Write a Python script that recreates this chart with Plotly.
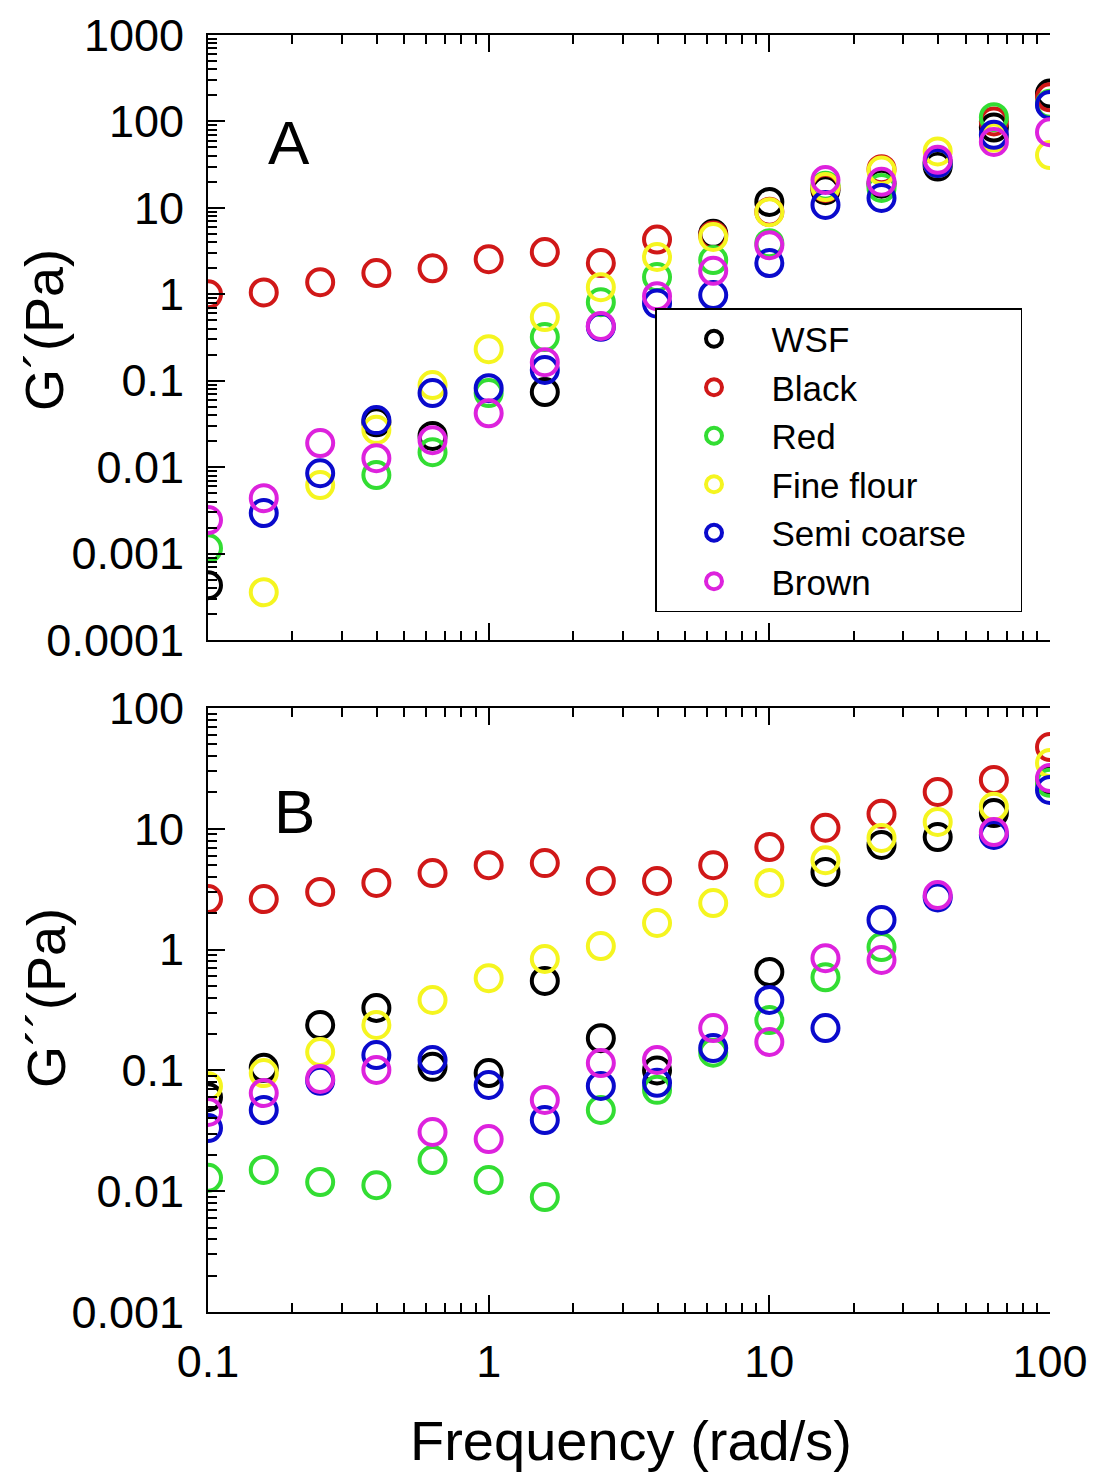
import plotly.graph_objects as go

# ---------------- data ----------------
freq = [0.1, 0.158, 0.251, 0.398, 0.631, 1.0, 1.585, 2.51, 3.98, 6.31,
        10.0, 15.85, 25.1, 39.8, 63.1, 100.0]

series_names = ["WSF", "Black", "Red", "Fine flour", "Semi coarse", "Brown"]
series_colors = ["#000000", "#d01818", "#33dd33", "#f5f520", "#0a0acc", "#dd22dd"]

# G' (Pa)  panel A
gp_wsf    = [0.00043, None, None, 0.033, 0.023, None, 0.074, None, None, 5.0,
             11.7, 16, 19, 30, 85, 210]
gp_black  = [1.0, 1.05, 1.38, 1.76, 2.0, 2.55, 3.08, 2.3, 4.3, 4.8,
             9.0, 17, 28, 33, 100, 190]
gp_red    = [0.00115, None, None, 0.0081, 0.0149, 0.072, 0.32, 0.81, 1.58, 2.49,
             3.9, 18, 17, 33, 112, 160]
gp_fine   = [None, 0.000357, 0.0062, 0.027, 0.089, 0.232, 0.545, 1.21, 2.7, 4.6,
             8.9, 17.4, 27, 45, 65, 40.8]
gp_semi   = [None, 0.00294, 0.0085, 0.035, 0.072, 0.082, 0.133, 0.42, 0.78, 0.98,
             2.3, 10.8, 13, 33, 70, 155]
gp_brown  = [0.00244, 0.00438, 0.019, 0.0127, 0.0205, 0.042, 0.164, 0.43, 0.95, 1.87,
             3.7, 21, 20, 36, 58, 75]

# G'' (Pa)  panel B
gpp_wsf   = [0.06, 0.105, 0.238, 0.329, 0.107, 0.095, 0.55, 0.185, 0.10, None,
             0.653, 4.39, 7.35, 8.55, 13.5, 25]
gpp_black = [2.62, 2.62, 3.0, 3.56, 4.3, 5.0, 5.2, 3.7, 3.7, 5.0,
             7.06, 10.2, 13.3, 20.2, 25.4, 47.5]
gpp_red   = [0.0129, 0.015, 0.0119, 0.0112, 0.0181, 0.0124, 0.00895, 0.047, 0.069, 0.14,
             0.261, 0.59, 1.05, None, None, 24]
gpp_fine  = [0.074, 0.095, 0.142, 0.238, 0.383, 0.58, 0.836, 1.07, 1.66, 2.43,
             3.56, 5.5, 8.4, 11.4, 15.2, 35]
gpp_semi  = [0.0333, 0.047, 0.082, 0.134, 0.122, 0.0757, 0.0388, 0.0743, 0.079, 0.153,
             0.383, 0.224, 1.76, 2.7, 8.9, 21]
gpp_brown = [0.0453, 0.065, 0.085, 0.1008, 0.0309, 0.027, 0.0569, 0.115, 0.122, 0.224,
             0.172, 0.85, 0.82, 2.83, 9.4, 26.3]

gp_all = [gp_wsf, gp_black, gp_red, gp_fine, gp_semi, gp_brown]
gpp_all = [gpp_wsf, gpp_black, gpp_red, gpp_fine, gpp_semi, gpp_brown]

x_tickvals = [0.1, 1, 10, 100]
x_ticktext = ["0.1", "1", "10", "100"]
yA_tickvals = [1e-4, 1e-3, 1e-2, 1e-1, 1, 10, 100, 1000]
yA_ticktext = ["0.0001", "0.001", "0.01", "0.1", "1", "10", "100", "1000"]
yB_tickvals = [1e-3, 1e-2, 1e-1, 1, 10, 100]
yB_ticktext = ["0.001", "0.01", "0.1", "1", "10", "100"]

# ---------------- figure ----------------
W, H = 1099, 1474
OX, OY = 8, 8          # page body margin offset
FONT = "Liberation Sans, Arial, sans-serif"

def px(x):
    return (x - OX) / W

def py(y):
    return 1 - (y - OY) / H

def minor_vals(lo_exp, hi_exp):
    out = []
    for e in range(lo_exp, hi_exp):
        for m in range(2, 10):
            out.append(m * 10 ** e)
    return out

# pad the longest legend label so the legend box is as wide as the reference
longest = max(len(n) for n in series_names)

fig = go.Figure()

for i, name in enumerate(series_names):
    label = name + ("\u00a0" * 5 if len(name) == longest else "")
    fig.add_trace(go.Scatter(
        x=freq, y=gp_all[i], mode="markers", name=label,
        marker=dict(symbol="circle-open", size=26, color=series_colors[i],
                    line=dict(width=4, color=series_colors[i])),
        xaxis="x", yaxis="y", showlegend=True, legendrank=i + 1))
for i, name in enumerate(series_names):
    fig.add_trace(go.Scatter(
        x=freq, y=gpp_all[i], mode="markers", name=name,
        marker=dict(symbol="circle-open", size=26, color=series_colors[i],
                    line=dict(width=4, color=series_colors[i])),
        xaxis="x2", yaxis="y2", showlegend=False))

xdom = [px(208), px(1050)]
yA_dom = [py(640), py(35)]
yB_dom = [py(1312), py(708)]

axis_common = dict(type="log", showgrid=False, zeroline=False, showline=True,
                   linecolor="black", linewidth=2, ticks="inside",
                   tickcolor="black", tickwidth=2, ticklen=17, automargin=False,
                   tickfont=dict(family=FONT, size=45, color="black"))

xminor = dict(tickmode="array", tickvals=minor_vals(-1, 2), ticks="inside",
              ticklen=9, tickwidth=1.5, tickcolor="black", showgrid=False)

fig.update_layout(
    width=W, height=H,
    margin=dict(l=0, r=0, t=0, b=0, autoexpand=False),
    paper_bgcolor="white", plot_bgcolor="white",
    font=dict(family=FONT, color="black"),
    xaxis=dict(axis_common, domain=xdom, range=[-1, 2], anchor="y",
               tickmode="array", tickvals=x_tickvals, ticktext=x_ticktext,
               showticklabels=False, mirror="ticks", minor=xminor),
    yaxis=dict(axis_common, domain=yA_dom, range=[-4, 3], anchor="x",
               tickmode="array", tickvals=yA_tickvals, ticktext=yA_ticktext,
               ticklabelstandoff=13,
               minor=dict(tickmode="array", tickvals=minor_vals(-4, 3),
                          ticks="inside", ticklen=9, tickwidth=1.5,
                          tickcolor="black", showgrid=False)),
    yaxis3=dict(axis_common, domain=yA_dom, range=[-4, 3], anchor="x",
                overlaying="y", side="right", tickmode="array",
                tickvals=yA_tickvals, showticklabels=False),
    xaxis2=dict(axis_common, domain=xdom, range=[-1, 2], anchor="y2",
                tickmode="array", tickvals=x_tickvals, ticktext=x_ticktext,
                mirror="ticks", minor=xminor, ticklabelstandoff=9),
    yaxis2=dict(axis_common, domain=yB_dom, range=[-3, 2], anchor="x2",
                tickmode="array", tickvals=yB_tickvals, ticktext=yB_ticktext,
                ticklabelstandoff=13,
                minor=dict(tickmode="array", tickvals=minor_vals(-3, 2),
                           ticks="inside", ticklen=9, tickwidth=1.5,
                           tickcolor="black", showgrid=False)),
    yaxis4=dict(axis_common, domain=yB_dom, range=[-3, 2], anchor="x2",
                overlaying="y2", side="right", tickmode="array",
                tickvals=yB_tickvals, showticklabels=False),
    legend=dict(x=px(655), y=py(308), xanchor="left", yanchor="top",
                bgcolor="white", bordercolor="black", borderwidth=1.5,
                font=dict(family=FONT, size=35, color="black"),
                itemwidth=105, tracegroupgap=0),
    showlegend=True,
)

def ann(text, x, y, size, angle=0):
    return dict(text=text, x=px(x), y=py(y), xref="paper", yref="paper",
                xanchor="center", yanchor="middle", showarrow=False,
                textangle=angle, font=dict(family=FONT, size=size, color="black"))

annotations = [
    ann("A", 289, 143, 62),
    ann("B", 294, 812, 62),
    ann("G´(Pa)", 44, 330, 54, -90),
    ann("G´´(Pa)", 46, 998, 54, -90),
    ann("Frequency (rad/s)", 631, 1440, 56),
]
fig.update_layout(annotations=annotations)

fig.write_html("out.html")
